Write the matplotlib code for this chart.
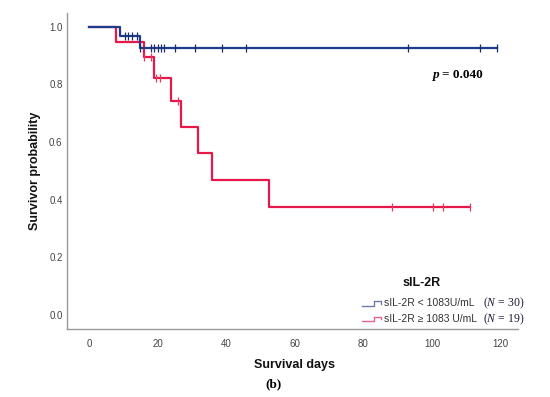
import numpy as np
import matplotlib
matplotlib.use('Agg')
from matplotlib import pyplot as plt
from matplotlib.lines import Line2D

# === Données ===
blue_times = [0, 9.0, 14.9, 118.9]
blue_surv = [1.0, 0.967, 0.928, 0.928]
blue_cens = [10.5, 11.5, 12.5, 13.9, 14.9, 18.1, 19.0, 20.0, 21.0, 21.9,
             25.1, 30.9, 38.9, 45.7, 93.1, 114.0, 118.9]

red_times = [0, 7.8, 16.0, 19.0, 23.9, 26.8, 31.8, 35.9, 52.5, 111.1]
red_surv = [1.0, 0.947, 0.895, 0.824, 0.743, 0.652, 0.562, 0.468, 0.375, 0.375]
red_cens = [16.0, 18.0, 19.6, 20.7, 26.0, 88.3, 100.2, 103.1, 111.1]

x_ticks = [0, 20, 40, 60, 80, 100, 120]
y_ticks = [0.0, 0.2, 0.4, 0.6, 0.8, 1.0]
legend_labels = ['sIL-2R < 1083U/mL', 'sIL-2R \u2265 1083 U/mL']
legend_n = [30, 19]
p_value = '0.040'

# === Style ===
plt.rcParams['font.family'] = ['Liberation Sans', 'DejaVu Sans']
plt.rcParams['mathtext.fontset'] = 'custom'
plt.rcParams['mathtext.rm'] = 'Liberation Serif'
plt.rcParams['mathtext.it'] = 'Liberation Serif:italic'
plt.rcParams['mathtext.bf'] = 'Liberation Serif:bold'

BLUE = '#1c3c8c'
RED = '#e8174a'


def surv_at(times, surv, t):
    idx = np.searchsorted(times, t, side='right') - 1
    return np.asarray(surv)[idx]


fig = plt.figure(figsize=(5.5, 3.97), dpi=100)
ax = fig.add_axes([0.1213, 0.1713, 0.8205, 0.7967])

ax.step(blue_times, blue_surv, where='post', color=BLUE, lw=1.6, zorder=3)
ax.step(red_times, red_surv, where='post', color=RED, lw=1.6, zorder=2)

ax.plot(blue_cens, surv_at(blue_times, blue_surv, blue_cens), ls='none',
        marker='|', ms=6, mew=0.9, color='#1a2f6a', zorder=4)
ax.plot(red_cens, surv_at(red_times, red_surv, red_cens), ls='none',
        marker='|', ms=6, mew=0.9, color='#e23b63', zorder=4)

ax.set_xlim(-6.5, 125.1)
ax.set_ylim(-0.0486, 1.049)
ax.set_xticks(x_ticks)
ax.set_yticks(y_ticks)
ax.set_yticklabels([f'{v:.1f}' for v in y_ticks])
ax.tick_params(length=0, labelsize=7, colors='#444444', pad=3)
ax.tick_params(axis='x', pad=7)
for s in ['top', 'right']:
    ax.spines[s].set_visible(False)
for s in ['left', 'bottom']:
    ax.spines[s].set_color('#999999')
    ax.spines[s].set_linewidth(1.0)

ax.set_ylabel('Survivor probability', fontsize=9, fontweight='bold',
              color='#111111', labelpad=6)
fig.text(0.535, 0.080, 'Survival days', fontsize=9, fontweight='bold',
         color='#111111', ha='center', va='center')
fig.text(0.497, 0.033, '(b)', fontsize=9.5, fontweight='bold',
         family='Liberation Serif', ha='center', va='center')

# p-value
ax.text(102.3, 0.832, 'p', fontsize=9.5, fontweight='bold', style='italic',
        family='Liberation Serif', ha='right', va='center')
ax.text(102.9, 0.832, f'= {p_value}', fontsize=9.5, fontweight='bold',
        family='Liberation Serif', ha='left', va='center')

# === Légende ===
fig.text(421.5 / 550, (397 - 283) / 397, 'sIL-2R', fontsize=9,
         fontweight='bold', ha='center', va='center', color='#111111')
sym_colors = ['#6c7ea6', '#e0648c']
for i, (lab, n, c) in enumerate(zip(legend_labels, legend_n, sym_colors)):
    y = (397 - 303.5 - 15.5 * i) / 397
    x0, x1, x2 = 361.5 / 550, 373.5 / 550, 381 / 550
    dy_lo, dy_hi = -2.2 / 397, 2.2 / 397
    fig.add_artist(Line2D([x0, x1, x1, x2, x2],
                          [y + dy_lo, y + dy_lo, y + dy_hi, y + dy_hi, y],
                          color=c, lw=1.0, transform=fig.transFigure))
    fig.text(384 / 550, y, lab, fontsize=7.5, color='#333333',
             ha='left', va='center')
    fig.text(483 / 550, y, rf'$(N\,=\,{n})$', fontsize=8.5, color='#1a1a3a',
             ha='left', va='center')

fig.savefig('out.png', dpi=100)
